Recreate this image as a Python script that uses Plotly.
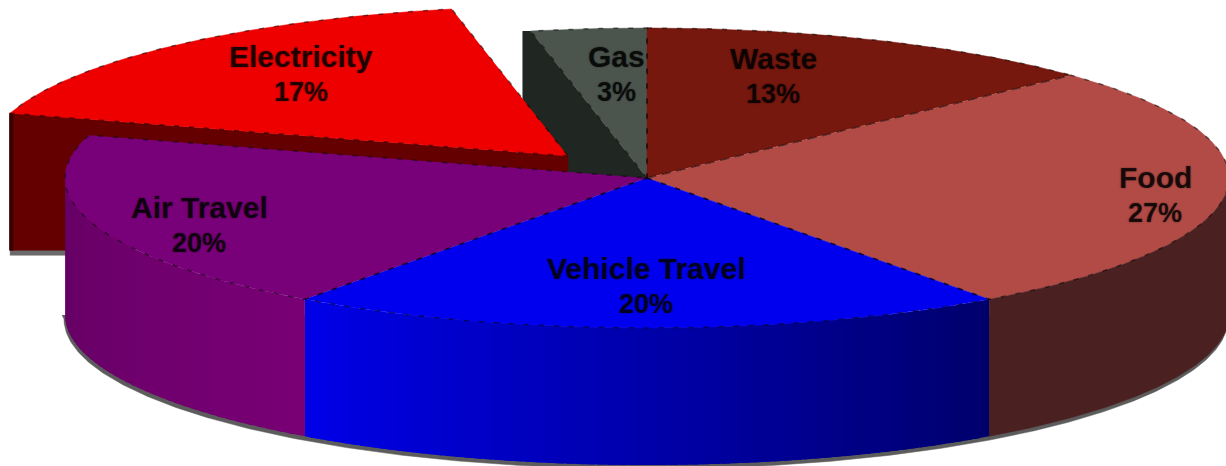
import numpy as np
import plotly.graph_objects as go

labels = ["Waste", "Food", "Vehicle Travel", "Air Travel", "Electricity", "Gas"]
values = [13, 27, 20, 19.6, 17.2, 3.2]

top_colors = ["#76180e", "#b24b46", "#0000ee", "#780078", "#ee0000", "#4b554e"]
food_wall = "#4b2020"
elec_wall = "#640000"
gas_wall = "#202622"
blue_wall = [(0, 0, 232), (0, 0, 108)]
air_wall = [(100, 0, 100), (120, 0, 116)]

label_x = [773, 1155, 646, 199, 301, 616]
label_y = [76, 195, 286, 225, 74, 74]

# geometry of the tilted pie, in pixels
cx, cy = 647, 178
rx, ry = 582, 150
depth = 137
elec_shift = (-79, -22)
gas_shift = -8


def rim(a, dx=0, dy=0):
    t = np.radians(a)
    return cx + dx + rx * np.sin(t), cy + dy - ry * np.cos(t)


def arc(a0, a1, dx=0, dy=0):
    ang = np.linspace(a0, a1, max(int(abs(a1 - a0) * 2), 2))
    return rim(ang, dx, dy)


def poly(fig, xs, ys, color, lw=0.5):
    fig.add_trace(go.Scatter(x=list(xs), y=list(ys), mode="lines", fill="toself", fillcolor=color,
                             line=dict(color=color, width=lw), hoverinfo="skip"))


def rgb(c):
    return f"rgb({c[0]:.0f},{c[1]:.0f},{c[2]:.0f})"


# slice angles, clockwise from twelve o'clock
edges = np.concatenate([[0], np.cumsum(values)]) * 3.6
start = dict(zip(labels, edges[:-1]))
end = dict(zip(labels, edges[1:]))

fig = go.Figure()

# grey shadow fringe under the walls
sx, sy = arc(90, 270, -1, depth + 4)
poly(fig, [cx + rx, *sx, cx - rx - 3], [cy + depth, *sy, cy + depth], "#5c5c5c")
ex, ey = elec_shift
a = start["Electricity"]
x0, y0 = rim(a, ex, ey)
poly(fig, [x0, x0, x0 + 80, x0 + 80], [y0, y0 + depth + 5, y0 + depth + 5, y0], "#6a6a6a")

# gas cut face, sits behind the exploded slice
a = start["Gas"]
x0, y0 = rim(a)
poly(fig, [x0, cx, cx - 80, x0 + gas_shift, x0 + gas_shift],
     [y0, cy, cy, y0 + depth, y0], gas_wall)

# electricity side wall
a = start["Electricity"]
x0, y0 = rim(a, ex, ey)
poly(fig, [x0, cx + ex, cx + ex, x0 + 100, x0],
     [y0, cy + ey, cy + ey + 17, y0 + depth, y0 + depth], elec_wall)
poly(fig, [x0 - 1, x0 + 3, x0 + 3, x0 - 1], [y0, y0, y0 + depth, y0 + depth], "#3c0000")

# top faces at the back
for name in ["Electricity", "Gas", "Waste", "Food"]:
    i = labels.index(name)
    dx, dy = elec_shift if name == "Electricity" else (0, 0)
    ax, ay = arc(start[name], end[name], dx, dy)
    poly(fig, [cx + dx, *ax], [cy + dy, *ay], top_colors[i])

# curved walls at the front
ax, ay = arc(90, end["Food"])
bx, by = arc(end["Food"], 90, 0, depth)
poly(fig, [*ax, *bx], [*ay, *by], food_wall)


def wall(fig, a0, a1, stops, n=70):
    # drawn from the far end so each strip overlaps the one before it
    steps = np.linspace(a0, a1, n + 1)
    for k in range(n):
        f = k / (n - 1)
        col = [stops[0][j] + (stops[1][j] - stops[0][j]) * f for j in range(3)]
        ax, ay = arc(steps[k], min(steps[k + 1] + 0.8, a1))
        bx, by = arc(min(steps[k + 1] + 0.8, a1), steps[k], 0, depth)
        poly(fig, [*ax, *bx], [*ay, *by], rgb(col), lw=0)


wall(fig, start["Vehicle Travel"], end["Vehicle Travel"], blue_wall[::-1])
wall(fig, end["Vehicle Travel"], 270, air_wall[::-1], n=40)

# top faces at the front
for name in ["Air Travel", "Vehicle Travel"]:
    i = labels.index(name)
    ax, ay = arc(start[name], end[name])
    poly(fig, [cx, *ax], [cy, *ay], top_colors[i])

# dotted dark edges left by the compression of the original
for name in labels:
    i = labels.index(name)
    dx, dy = elec_shift if name == "Electricity" else (0, 0)
    ax, ay = arc(start[name], end[name], dx, dy)
    fig.add_trace(go.Scatter(x=[cx + dx, *ax, cx + dx], y=[cy + dy, *ay, cy + dy], mode="lines",
                             line=dict(color="rgba(0,0,0,0.5)", width=1.5, dash="5px,10px"), hoverinfo="skip"))

# labels
for i, name in enumerate(labels):
    pct = f"{values[i]:.0f}%"
    for txt, off, size in [(name, -18, 30), (pct, 18, 27)]:
        fig.add_annotation(x=label_x[i], y=label_y[i] + off, text=txt, showarrow=False, xref="x", yref="y",
                           font=dict(family="Liberation Sans", size=size, color="rgba(0,0,0,0.78)",
                                     weight="bold", shadow="0 0 2px rgba(0,0,0,0.55)"))

fig.update_layout(width=1226, height=466, margin=dict(l=0, r=0, t=0, b=0), showlegend=False,
                  paper_bgcolor="white", plot_bgcolor="white",
                  xaxis=dict(range=[0, 1226], visible=False, fixedrange=True),
                  yaxis=dict(range=[466, 0], visible=False, fixedrange=True))

fig.write_html("out.html", config=dict(displayModeBar=False),
               post_script="document.body.style.margin='0';document.body.style.overflow='hidden';")
